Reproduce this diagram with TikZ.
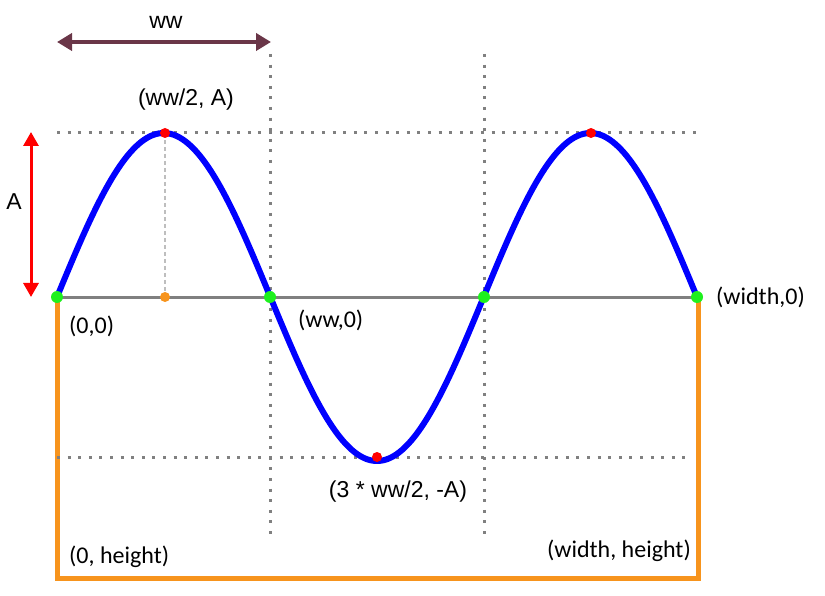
\documentclass[tikz,border=0pt]{standalone}
\usepackage{fontspec}
\setmainfont{Liberation Sans}
\newfontfamily\carlito{Carlito}
\usetikzlibrary{arrows.meta}
\definecolor{wblue}{RGB}{0,0,255}
\definecolor{wgreen}{RGB}{30,240,30}
\definecolor{wred}{RGB}{255,0,0}
\definecolor{worange}{RGB}{247,148,29}
\definecolor{wpurple}{RGB}{106,54,72}
\definecolor{wgray}{RGB}{128,128,128}
\definecolor{wlgray}{RGB}{190,190,190}
\tikzset{
  dotline/.style={wgray, line width=3pt, dash pattern=on 3pt off 7.6pt},
  dot/.style={circle, inner sep=0pt, minimum size=#1},
  lbl/.style={inner sep=0pt, font=\fontsize{23}{26}\selectfont},
  clbl/.style={inner sep=0pt, font=\carlito\fontsize{24}{28}\selectfont},
}
\begin{document}
\begin{tikzpicture}[x=1pt,y=-1pt]
\useasboundingbox (0,0) rectangle (825,596);
% key coordinates
\coordinate (o) at (57,297);
\coordinate (w1) at (270,297);
\coordinate (w2) at (484,297);
\coordinate (wd) at (697,297);
\coordinate (p1) at (165,133);
\coordinate (p2) at (591,133);
\coordinate (t1) at (377,457);
\coordinate (m1) at (165,297);
\coordinate (bl) at (57,578);
\coordinate (br) at (698,578);
\coordinate (tl) at (57,133);
\coordinate (tr) at (698,133);
\coordinate (bdl) at (57,457);
\coordinate (bdr) at (692,457);
\coordinate (v1t) at (270,54);
\coordinate (v1b) at (270,538);
\coordinate (v2t) at (484,54);
\coordinate (v2b) at (484,538);
\coordinate (ra) at (31,132);
\coordinate (rb) at (31,297);
\coordinate (pa) at (57,42);
\coordinate (pb) at (271,42);
% orange frame
\draw[worange, line width=5pt] (o) -- (bl) -- (br) -- (698,297);
% dotted guides
\draw[dotline] (tl) -- (tr);
\draw[dotline] (bdl) -- (bdr);
\draw[dotline] (v1t) -- (v1b);
\draw[dotline] (v2t) -- (v2b);
% light dashed
\draw[wlgray, line width=1.5pt, dash pattern=on 4pt off 3pt] (p1) -- (m1);
% baseline
\draw[wgray, line width=3pt] (o) -- (wd);
% sine
\draw[wblue, line width=6pt, line join=round] plot[domain=0:640, samples=220, smooth] ({57+\x}, {297-164*sin(\x*0.843762)});
% arrows
\draw[wred, line width=3pt, {Triangle[length=14pt,width=15pt]}-{Triangle[length=14pt,width=15pt]}] (ra) -- (rb);
\draw[wpurple, line width=4.5pt, {Triangle[length=15pt,width=17pt]}-{Triangle[length=15pt,width=17pt]}] (pa) -- (pb);
% dots
\foreach \c in {o,w1,w2,wd} \node[dot=12pt, fill=wgreen] at (\c) {};
\foreach \c in {p1,p2,t1} \node[dot=10pt, fill=wred] at (\c) {};
\node[dot=10pt, fill=worange] (md) at (m1) {};
% labels
\node[lbl] (lww) at (166,22) {ww};
\node[lbl] (lA) at (14,202) {A};
\node[lbl] (lpk) at (186,100) {(ww/2, A)};
\node[lbl] (ltr) at (398,492) {(3 * ww/2, -A)};
\node[clbl, anchor=west] (l00) at (69,326) {(0,0)};
\node[clbl, anchor=west] (lw0) at (298,320) {(ww,0)};
\node[clbl, anchor=west] (lwd0) at (716,297) {(width,0)};
\node[clbl, anchor=west] (l0h) at (69,557) {(0, height)};
\node[clbl, anchor=east] (lwh) at (691,551) {(width, height)};
\end{tikzpicture}
\end{document}
